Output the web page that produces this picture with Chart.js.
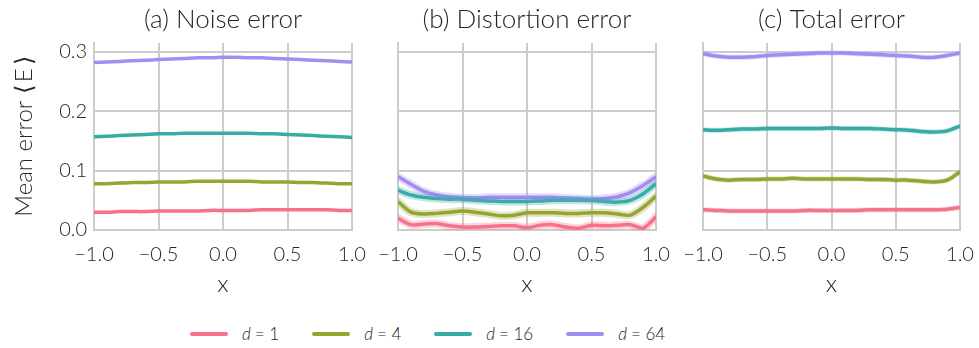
<!DOCTYPE html>
<html>
<head>
<meta charset="utf-8">
<script src="https://cdn.jsdelivr.net/npm/chart.js@4.4.0/dist/chart.umd.min.js"></script>
<style>
    html, body { margin: 0; padding: 0; background: #fff; }
    #wrap { position: relative; width: 979px; height: 348px; font-family: Lato, sans-serif; font-weight: 300; color: #262626; }
    .panel { position: absolute; top: 0; height: 300px; }
    #legend { position: absolute; top: 323px; left: 190px; display: flex; align-items: center; font-size: 17px; }
    .item { display: flex; align-items: center; margin-right: 33px; }
    .swatch { width: 38px; height: 4px; border-radius: 2px; margin-right: 14px; }
    .item i { margin-right: 4px; }
</style>
</head>
<body>
<div id="wrap">
    <div class="panel" style="left:0;width:372px"><canvas id="noiseChart"></canvas></div>
    <div class="panel" style="left:373px;width:303px"><canvas id="distortionChart"></canvas></div>
    <div class="panel" style="left:678px;width:301px"><canvas id="totalChart"></canvas></div>
    <div id="legend"></div>
</div>
<script>
// x positions
const xs = [-1.0, -0.9, -0.8, -0.7, -0.6, -0.5, -0.4, -0.3, -0.2, -0.1, 0.0, 0.1, 0.2, 0.3, 0.4, 0.5, 0.6, 0.7, 0.8, 0.9, 1.0];
const seriesNames = ['1', '4', '16', '64'];
const COLORS = ['#f7718a', '#97a431', '#36ada4', '#a48cf4'];
const yTicks = [0.0, 0.1, 0.2, 0.3];

// (a) Noise error
const noiseD1 = [0.030, 0.030, 0.031, 0.031, 0.031, 0.032, 0.032, 0.032, 0.032, 0.033, 0.033, 0.033, 0.033, 0.034, 0.034, 0.034, 0.034, 0.034, 0.034, 0.033, 0.033];
const noiseD4 = [0.078, 0.078, 0.079, 0.080, 0.080, 0.081, 0.081, 0.081, 0.082, 0.082, 0.082, 0.082, 0.082, 0.081, 0.081, 0.081, 0.080, 0.080, 0.079, 0.078, 0.078];
const noiseD16 = [0.157, 0.158, 0.159, 0.160, 0.161, 0.162, 0.162, 0.163, 0.163, 0.163, 0.163, 0.163, 0.163, 0.162, 0.162, 0.161, 0.160, 0.159, 0.158, 0.157, 0.156];
const noiseD64 = [0.282, 0.283, 0.284, 0.285, 0.286, 0.287, 0.288, 0.289, 0.290, 0.290, 0.291, 0.291, 0.290, 0.290, 0.289, 0.288, 0.287, 0.286, 0.285, 0.284, 0.283];

// (b) Distortion error
const distD1 = [0.020, 0.009, 0.010, 0.011, 0.007, 0.005, 0.005, 0.006, 0.007, 0.007, 0.004, 0.008, 0.009, 0.005, 0.003, 0.008, 0.007, 0.008, 0.009, 0.003, 0.022];
const distD4 = [0.048, 0.030, 0.027, 0.028, 0.030, 0.032, 0.030, 0.027, 0.024, 0.025, 0.029, 0.029, 0.029, 0.028, 0.028, 0.029, 0.029, 0.027, 0.025, 0.038, 0.057];
const distD16 = [0.067, 0.059, 0.055, 0.053, 0.052, 0.052, 0.050, 0.049, 0.048, 0.048, 0.048, 0.049, 0.050, 0.050, 0.050, 0.050, 0.048, 0.047, 0.050, 0.061, 0.078];
const distD64 = [0.090, 0.077, 0.065, 0.059, 0.056, 0.054, 0.054, 0.055, 0.055, 0.055, 0.055, 0.055, 0.055, 0.054, 0.053, 0.052, 0.053, 0.056, 0.063, 0.075, 0.090];

// (c) Total error
const totalD1 = [0.034, 0.033, 0.032, 0.032, 0.032, 0.032, 0.032, 0.032, 0.033, 0.033, 0.033, 0.033, 0.033, 0.034, 0.034, 0.034, 0.034, 0.034, 0.034, 0.035, 0.038];
const totalD4 = [0.091, 0.086, 0.084, 0.085, 0.085, 0.086, 0.086, 0.087, 0.086, 0.086, 0.086, 0.086, 0.086, 0.085, 0.085, 0.084, 0.084, 0.082, 0.081, 0.084, 0.098];
const totalD16 = [0.169, 0.168, 0.169, 0.170, 0.170, 0.171, 0.171, 0.171, 0.171, 0.171, 0.172, 0.171, 0.171, 0.171, 0.170, 0.169, 0.168, 0.166, 0.165, 0.167, 0.175];
const totalD64 = [0.297, 0.293, 0.291, 0.291, 0.292, 0.294, 0.295, 0.296, 0.297, 0.298, 0.298, 0.298, 0.297, 0.296, 0.295, 0.294, 0.293, 0.291, 0.291, 0.294, 0.298];

const FONT = 'Lato, sans-serif';
const TEXT = '#262626';
const GRID = '#cccccc';

function toPoints(values) {
    return values.map((v, i) => ({ x: xs[i], y: v }));
}

function fmt(v) {
    return v < 0 ? '\u2212' + Math.abs(v).toFixed(1) : v.toFixed(1);
}

function hexAlpha(hex, a) {
    const n = parseInt(hex.slice(1), 16);
    return `rgba(${n >> 16}, ${(n >> 8) & 255}, ${n & 255}, ${a})`;
}

function createPanel(id, title, series, opts) {
    const ctx = document.getElementById(id);
    const datasets = [];
    // translucent band behind each line
    if (opts.band) {
        series.forEach((values, i) => {
            datasets.push({
                data: toPoints(values),
                borderColor: hexAlpha(COLORS[i], 0.3),
                borderWidth: opts.band,
                pointRadius: 0,
                tension: 0.3,
                borderCapStyle: 'round'
            });
        });
    }
    series.forEach((values, i) => {
        datasets.push({
            label: 'd = ' + seriesNames[i],
            data: toPoints(values),
            borderColor: COLORS[i],
            borderWidth: 3.5,
            pointRadius: 0,
            tension: 0.3
        });
    });

    new Chart(ctx, {
        type: 'line',
        data: { datasets: datasets },
        options: {
            responsive: true,
            maintainAspectRatio: false,
            animation: false,
            layout: { padding: { left: 0, right: opts.right, top: 0, bottom: 0 } },
            plugins: {
                title: {
                    display: true,
                    fullSize: false,   // center over the plot area
                    text: title,
                    color: TEXT,
                    font: { family: FONT, size: 26, weight: 300 },
                    padding: { top: 4.5, bottom: 7.3 }
                },
                legend: { display: false },
                tooltip: { enabled: false }
            },
            scales: {
                x: {
                    type: 'linear',
                    min: -1,
                    max: 1,
                    // fixed height, and no extra room for edge labels
                    afterFit: s => { s.height = 70; s.paddingLeft = 0; s.paddingRight = 0; },
                    grid: { color: GRID, lineWidth: 2, drawTicks: false },
                    border: { color: GRID, width: 2 },
                    ticks: {
                        stepSize: 0.5,
                        padding: 13,
                        color: TEXT,
                        font: { family: FONT, size: 20, weight: 300 },
                        maxRotation: 0,
                        callback: v => fmt(v)
                    },
                    title: {
                        display: true,
                        text: 'x',
                        color: TEXT,
                        font: { family: FONT, size: 24, weight: 300 },
                        padding: { top: 0, bottom: 1 }
                    }
                },
                y: {
                    min: 0,
                    max: 0.315,
                    afterFit: s => { s.width = opts.yWidth; },
                    afterBuildTicks: s => { s.ticks = yTicks.map(v => ({ value: v })); },
                    grid: { color: GRID, lineWidth: 2, drawTicks: false },
                    border: { color: GRID, width: 2 },
                    ticks: {
                        display: opts.showY,
                        padding: 7,
                        color: TEXT,
                        font: { family: FONT, size: 20, weight: 300 },
                        callback: v => fmt(v)
                    },
                    title: {
                        display: opts.showY,
                        text: 'Mean error \u27E8\u2009E\u2009\u27E9',
                        color: TEXT,
                        font: { family: FONT, size: 24, weight: 300 },
                        padding: { top: 10, bottom: 0 }
                    }
                }
            }
        }
    });
}

function buildLegend() {
    const el = document.getElementById('legend');
    seriesNames.forEach((name, i) => {
        const item = document.createElement('div');
        item.className = 'item';
        item.innerHTML = `<span class="swatch" style="background:${COLORS[i]}"></span><i>d</i><span>= ${name}</span>`;
        el.appendChild(item);
    });
}

createPanel('noiseChart', '(a) Noise error', [noiseD1, noiseD4, noiseD16, noiseD64], { right: 20, yWidth: 94, showY: true, band: 0 });
createPanel('distortionChart', '(b) Distortion error', [distD1, distD4, distD16, distD64], { right: 20, yWidth: 25, showY: false, band: 8 });
createPanel('totalChart', '(c) Total error', [totalD1, totalD4, totalD16, totalD64], { right: 19, yWidth: 25, showY: false, band: 5 });
buildLegend();
</script>
</body>
</html>
